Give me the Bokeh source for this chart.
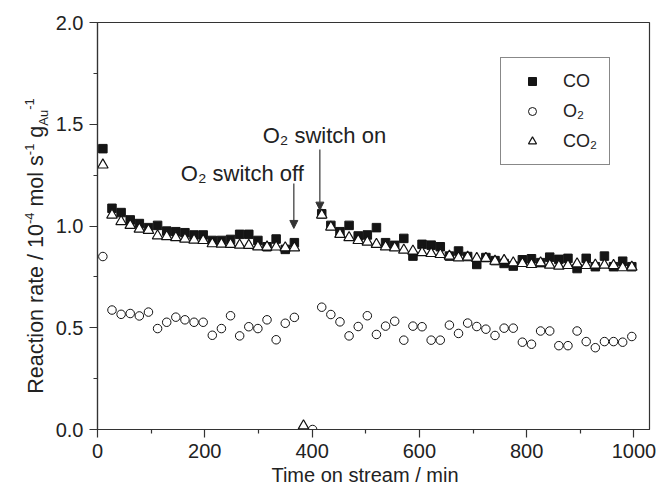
from bokeh.plotting import figure
from bokeh.layouts import row, column
from bokeh.models import (Range1d, FixedTicker, NumeralTickFormatter, Label, Arrow,
                          NormalHead, Legend, LegendItem, ColumnDataSource, Div)
from bokeh.embed import file_html
from bokeh.resources import INLINE

nan = float("nan")

# ---------------- data ----------------
time_min = [10, 27, 44, 61, 78, 95, 112, 129, 146, 163, 180, 197, 214, 231, 248,
            265, 282, 299, 316, 333, 350, 367, 384, 401, 418, 435, 452, 469, 486,
            503, 520, 537, 554, 571, 588, 605, 622, 639, 656, 673, 690, 707, 724,
            741, 758, 775, 792, 809, 826, 843, 860, 877, 894, 911, 928, 945, 962,
            979, 996]

rate_co = [1.38, 1.087, 1.066, 1.030, 1.012, 0.992, 1.003, 0.975, 0.972, 0.967,
           0.956, 0.956, 0.929, 0.929, 0.934, 0.959, 0.959, 0.929, 0.898, 0.936,
           0.885, 0.918, nan, nan, 1.060, 1.003, 0.972, 1.003, 0.951, 0.956,
           0.992, 0.918, 0.905, 0.939, 0.852, 0.910, 0.906, 0.898, 0.852, 0.877,
           0.850, 0.811, 0.845, 0.830, 0.816, 0.803, 0.834, 0.839, 0.820, 0.847,
           0.836, 0.841, 0.791, 0.841, 0.800, 0.852, 0.800, 0.827, 0.800]

rate_o2 = [0.85, 0.587, 0.566, 0.570, 0.558, 0.577, 0.496, 0.527, 0.552, 0.539,
           0.527, 0.527, 0.463, 0.496, 0.559, 0.460, 0.505, 0.496, 0.539, 0.441,
           0.522, 0.551, nan, 0.0, 0.601, 0.565, 0.529, 0.460, 0.506, 0.559,
           0.467, 0.508, 0.532, 0.439, 0.508, 0.505, 0.439, 0.439, 0.513, 0.472,
           0.523, 0.506, 0.493, 0.462, 0.498, 0.498, 0.429, 0.419, 0.484, 0.484,
           0.412, 0.412, 0.484, 0.432, 0.402, 0.432, 0.432, 0.429, 0.457]

rate_co2 = [1.30, 1.054, 1.022, 1.003, 0.985, 0.979, 0.952, 0.948, 0.943, 0.936,
            0.931, 0.929, 0.913, 0.911, 0.910, 0.906, 0.905, 0.898, 0.897, 0.897,
            0.893, 0.893, 0.018, nan, 1.054, 0.995, 0.959, 0.943, 0.929, 0.921,
            0.910, 0.898, 0.893, 0.882, 0.877, 0.869, 0.865, 0.860, 0.852, 0.844,
            0.847, 0.841, 0.841, 0.827, 0.831, 0.819, 0.816, 0.811, 0.819, 0.808,
            0.803, 0.806, 0.814, 0.806, 0.808, 0.808, 0.806, 0.795, 0.798]

x_ticks = [0, 200, 400, 600, 800, 1000]
x_minor = [100, 300, 500, 700, 900]
y_ticks = [0.0, 0.5, 1.0, 1.5, 2.0]
y_minor = [0.25, 0.75, 1.25, 1.75]

series_labels = ["CO", "O\u2082", "CO\u2082"]
x_title = "Time on stream / min"

# annotation anchors (data units)
off_text = (270, 1.258)
on_text = (423, 1.445)
off_arrow = (366, 1.209, 0.988)
on_arrow = (414.5, 1.376, 1.078)

# ---------------- layout ----------------
TOTAL_W, TOTAL_H = 656, 487
DIV_W = 50
W = TOTAL_W - DIV_W
H = 466
XT_H = TOTAL_H - H
FONT = "Liberation Sans"
INK = "#222222"
AX = "#333333"

p = figure(width=W, height=H, output_backend="svg", toolbar_location=None,
           x_range=Range1d(0, 1029), y_range=Range1d(0, 2.0),
           min_border_left=47, min_border_right=7, min_border_top=22,
           min_border_bottom=H - 429, margin=(0, 0, 0, 0))
p.xgrid.visible = False
p.ygrid.visible = False
p.outline_line_color = AX
p.outline_line_width = 1.2
p.background_fill_color = "white"
p.border_fill_color = "white"

p.xaxis.ticker = FixedTicker(ticks=x_ticks, minor_ticks=x_minor)
p.yaxis.ticker = FixedTicker(ticks=y_ticks, minor_ticks=y_minor)
p.yaxis.formatter = NumeralTickFormatter(format="0.0")
for ax in (p.xaxis, p.yaxis):
    ax.axis_line_color = AX
    ax.axis_line_width = 1.2
    ax.major_tick_line_color = AX
    ax.minor_tick_line_color = AX
    ax.major_tick_line_width = 1.2
    ax.minor_tick_line_width = 1.2
    ax.major_tick_in = 0
    ax.major_tick_out = 8
    ax.minor_tick_in = 0
    ax.minor_tick_out = 4
    ax.major_label_text_font = FONT
    ax.major_label_text_font_size = "20px"
    ax.major_label_text_color = INK
p.xaxis.major_label_standoff = 6
p.yaxis.major_label_standoff = 6

src = ColumnDataSource(dict(t=time_min, co=rate_co, o2=rate_o2, co2=rate_co2))

r_co = p.scatter("t", "co", source=src, marker="square", size=8.5,
                 fill_color="#151515", line_color="#151515", line_width=1)
r_o2 = p.scatter("t", "o2", source=src, marker="circle", size=8.5,
                 fill_color="white", fill_alpha=0.0, line_color="#111111", line_width=1)
r_co2 = p.scatter("t", "co2", source=src, marker="triangle", size=10.5,
                  fill_color="white", line_color="#111111", line_width=1.2)

legend = Legend(items=[LegendItem(label=series_labels[0], renderers=[r_co]),
                       LegendItem(label=series_labels[1], renderers=[r_o2]),
                       LegendItem(label=series_labels[2], renderers=[r_co2])],
                location=(403, 264))
legend.label_text_font = FONT
legend.label_text_font_size = "18px"
legend.label_text_color = INK
legend.glyph_width = 38
legend.glyph_height = 20
legend.label_height = 22
legend.label_standoff = 12
legend.spacing = 8
legend.padding = 12
legend.margin = 0
legend.border_line_color = "#111111"
legend.border_line_width = 1
legend.background_fill_color = "white"
legend.background_fill_alpha = 1.0
p.add_layout(legend)

for (tx, ty), txt in ((off_text, "O\u2082 switch off"), (on_text, "O\u2082 switch on")):
    p.add_layout(Label(x=tx, y=ty, text=txt, text_align="center", text_baseline="middle",
                       text_font=FONT, text_font_size="22px", text_color=INK))

for ax_, ys, ye in (off_arrow, on_arrow):
    p.add_layout(Arrow(end=NormalHead(size=8, fill_color=AX, line_color=AX, line_width=1),
                       x_start=ax_, y_start=ys, x_end=ax_, y_end=ye,
                       line_color=AX, line_width=1.2))

TEXT_CSS = ("white-space:nowrap;font-family:'Liberation Sans',Arial,sans-serif;"
            "line-height:1;color:#222222;")

# y-axis title (rotated HTML text with sub/superscripts)
sup = '<span style="font-size:13px;vertical-align:9px;">{}</span>'
sub = '<span style="font-size:13px;vertical-align:-5px;">{}</span>'
y_title_html = ("Reaction rate / 10" + sup.format("-4") + " mol s" + sup.format("-1")
                + " g" + sub.format("Au") + sup.format("-1"))
ydiv = Div(text=(
    '<div style="position:relative;width:%dpx;height:%dpx;">'
    '<div style="position:absolute;left:36px;top:246px;font-size:21.5px;'
    'transform:translate(-50%%,-50%%) rotate(-90deg);%s">%s</div></div>'
    % (DIV_W, H, TEXT_CSS, y_title_html)),
    width=DIV_W, height=H, margin=(0, 0, 0, 0))

# x-axis title
xdiv = Div(text=(
    '<div style="position:relative;width:%dpx;height:%dpx;">'
    '<div style="position:absolute;left:365px;top:9px;font-size:20px;'
    'transform:translate(-50%%,-50%%);%s">%s</div></div>'
    % (TOTAL_W, XT_H, TEXT_CSS, x_title)),
    width=TOTAL_W, height=XT_H, margin=(0, 0, 0, 0))

layout = column(row(ydiv, p, spacing=0), xdiv, spacing=0)
open("out.html", "w").write(file_html(layout, INLINE))
